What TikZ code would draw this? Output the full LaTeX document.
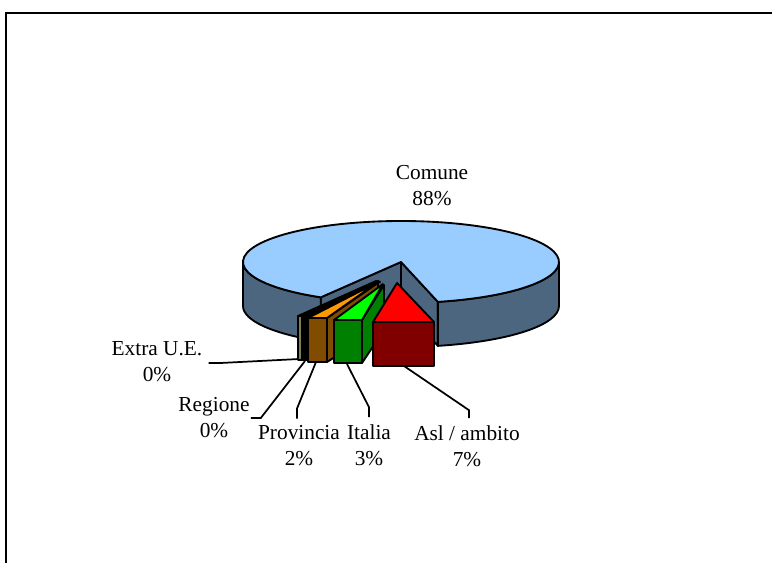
\documentclass[tikz,border=0pt]{standalone}
\usepackage{fontspec}
\setmainfont{Liberation Serif}
\usepackage{tikz}

\definecolor{comuneTop}{RGB}{153,204,255}
\definecolor{comuneSide}{RGB}{77,102,128}
\definecolor{aslTop}{RGB}{255,0,0}
\definecolor{aslFront}{RGB}{128,0,0}
\definecolor{italiaTop}{RGB}{0,255,0}
\definecolor{italiaFront}{RGB}{0,128,0}
\definecolor{provTop}{RGB}{255,153,0}
\definecolor{provFront}{RGB}{128,77,0}
\definecolor{extraTop}{RGB}{255,255,153}
\definecolor{extraFront}{RGB}{128,128,77}

\begin{document}
\begin{tikzpicture}[x=0.75pt,y=0.75pt,yscale=-1,xscale=1,
  face/.style={draw=black,line width=1.4pt,line join=round},
  lbl/.style={align=center,inner sep=0.75pt,font=\fontsize{16}{19.5}\selectfont},
  leader/.style={draw=black,line width=1.3pt}]
\useasboundingbox (0,0) rectangle (772,563);

%Frame
\draw [line width=2.2pt] (6,13) rectangle (800,600);

%Comune: cut faces
\draw [face,fill=comuneSide] (401,262) -- ({401+158*cos(120.5)},{262+41*sin(120.5)}) -- ++(0,44) -- (401,306) -- cycle;
\draw [face,fill=comuneSide] (401,262) -- ({401+158*cos(76.5)},{262+41*sin(76.5)}) -- ++(0,44) -- (401,306) -- cycle;
%Comune: outer walls
\draw [face,fill=comuneSide] (559,262) arc [start angle=0, end angle=76.5, x radius=158, y radius=41] -- ++(0,44) arc [start angle=76.5, end angle=0, x radius=158, y radius=41] -- cycle;
\draw [face,fill=comuneSide] ({401+158*cos(120.5)},{262+41*sin(120.5)}) arc [start angle=120.5, end angle=180, x radius=158, y radius=41] -- ++(0,44) arc [start angle=180, end angle=120.5, x radius=158, y radius=41] -- cycle;
%Comune: top
\draw [face,fill=comuneTop] (401,262) -- ({401+158*cos(120.5)},{262+41*sin(120.5)}) arc [start angle=120.5, end angle=436.5, x radius=158, y radius=41] -- cycle;

%Extra U.E.
\draw [face,fill=extraTop] (298,316) -- (376,281) -- (379,282) -- (302,316) -- cycle;
\draw [face,fill=extraFront] (298,316) rectangle (302,360);
%Regione
\draw [face,fill=black] (302,316) -- (378,281) -- (380,282) -- (307,317) -- cycle;
\draw [face,fill=black] (302,316) rectangle (307,360);
%Provincia
\draw [face,fill=provFront] (327,318) -- (378,283) -- (378,330) -- (327,362) -- cycle;
\draw [face,fill=provTop] (308,318) -- (378,282) -- (327,318) -- cycle;
\draw [face,fill=provFront] (308,318) rectangle (327,362);
%Italia
\draw [face,fill=italiaFront] (362,320) -- (384,285) -- (384,330) -- (362,363) -- cycle;
\draw [face,fill=italiaTop] (334,320) -- (383,284) -- (362,320) -- cycle;
\draw [face,fill=italiaFront] (334,320) rectangle (362,363);
%Asl / ambito
\draw [face,fill=aslTop] (373,322) -- (397,283) -- (434,322) -- cycle;
\draw [face,fill=aslFront] (373,322) rectangle (434,366);

%Leader ends
\coordinate (extraEnd) at (299,359);
\coordinate (regioneEnd) at (305,361);
\coordinate (provEnd) at (316,362);
\coordinate (italiaEnd) at (347,364);
\coordinate (aslEnd) at (404,366);

% Text Node
\node [lbl] (comune) at (432,186) {Comune\\88\%};
% Text Node
\node [lbl] (extra) at (157,362) {Extra U.E.\\0\%};
% Text Node
\node [lbl] (regione) at (214,418) {Regione\\0\%};
% Text Node
\node [lbl] (provincia) at (299,446) {Provincia\\2\%};
% Text Node
\node [lbl] (italia) at (369,445) {Italia\\3\%};
% Text Node
\node [lbl] (asl) at (467,446) {Asl / ambito\\7\%};

%Straight Lines
\draw [leader] (extra.east) ++(5,1) -- ++(12,0) -- (extraEnd);
\draw [leader] (regione.east) -- ++(10,0) -- (regioneEnd);
\draw [leader] (provincia.north) ++(-2,-6) -- ++(0,-10) -- (provEnd);
\draw [leader] (italia.north) ++(0,-6) -- ++(0,-10) -- (italiaEnd);
\draw [leader] (asl.north) ++(2,-6) -- ++(0,-8) -- (aslEnd);

\end{tikzpicture}
\end{document}
